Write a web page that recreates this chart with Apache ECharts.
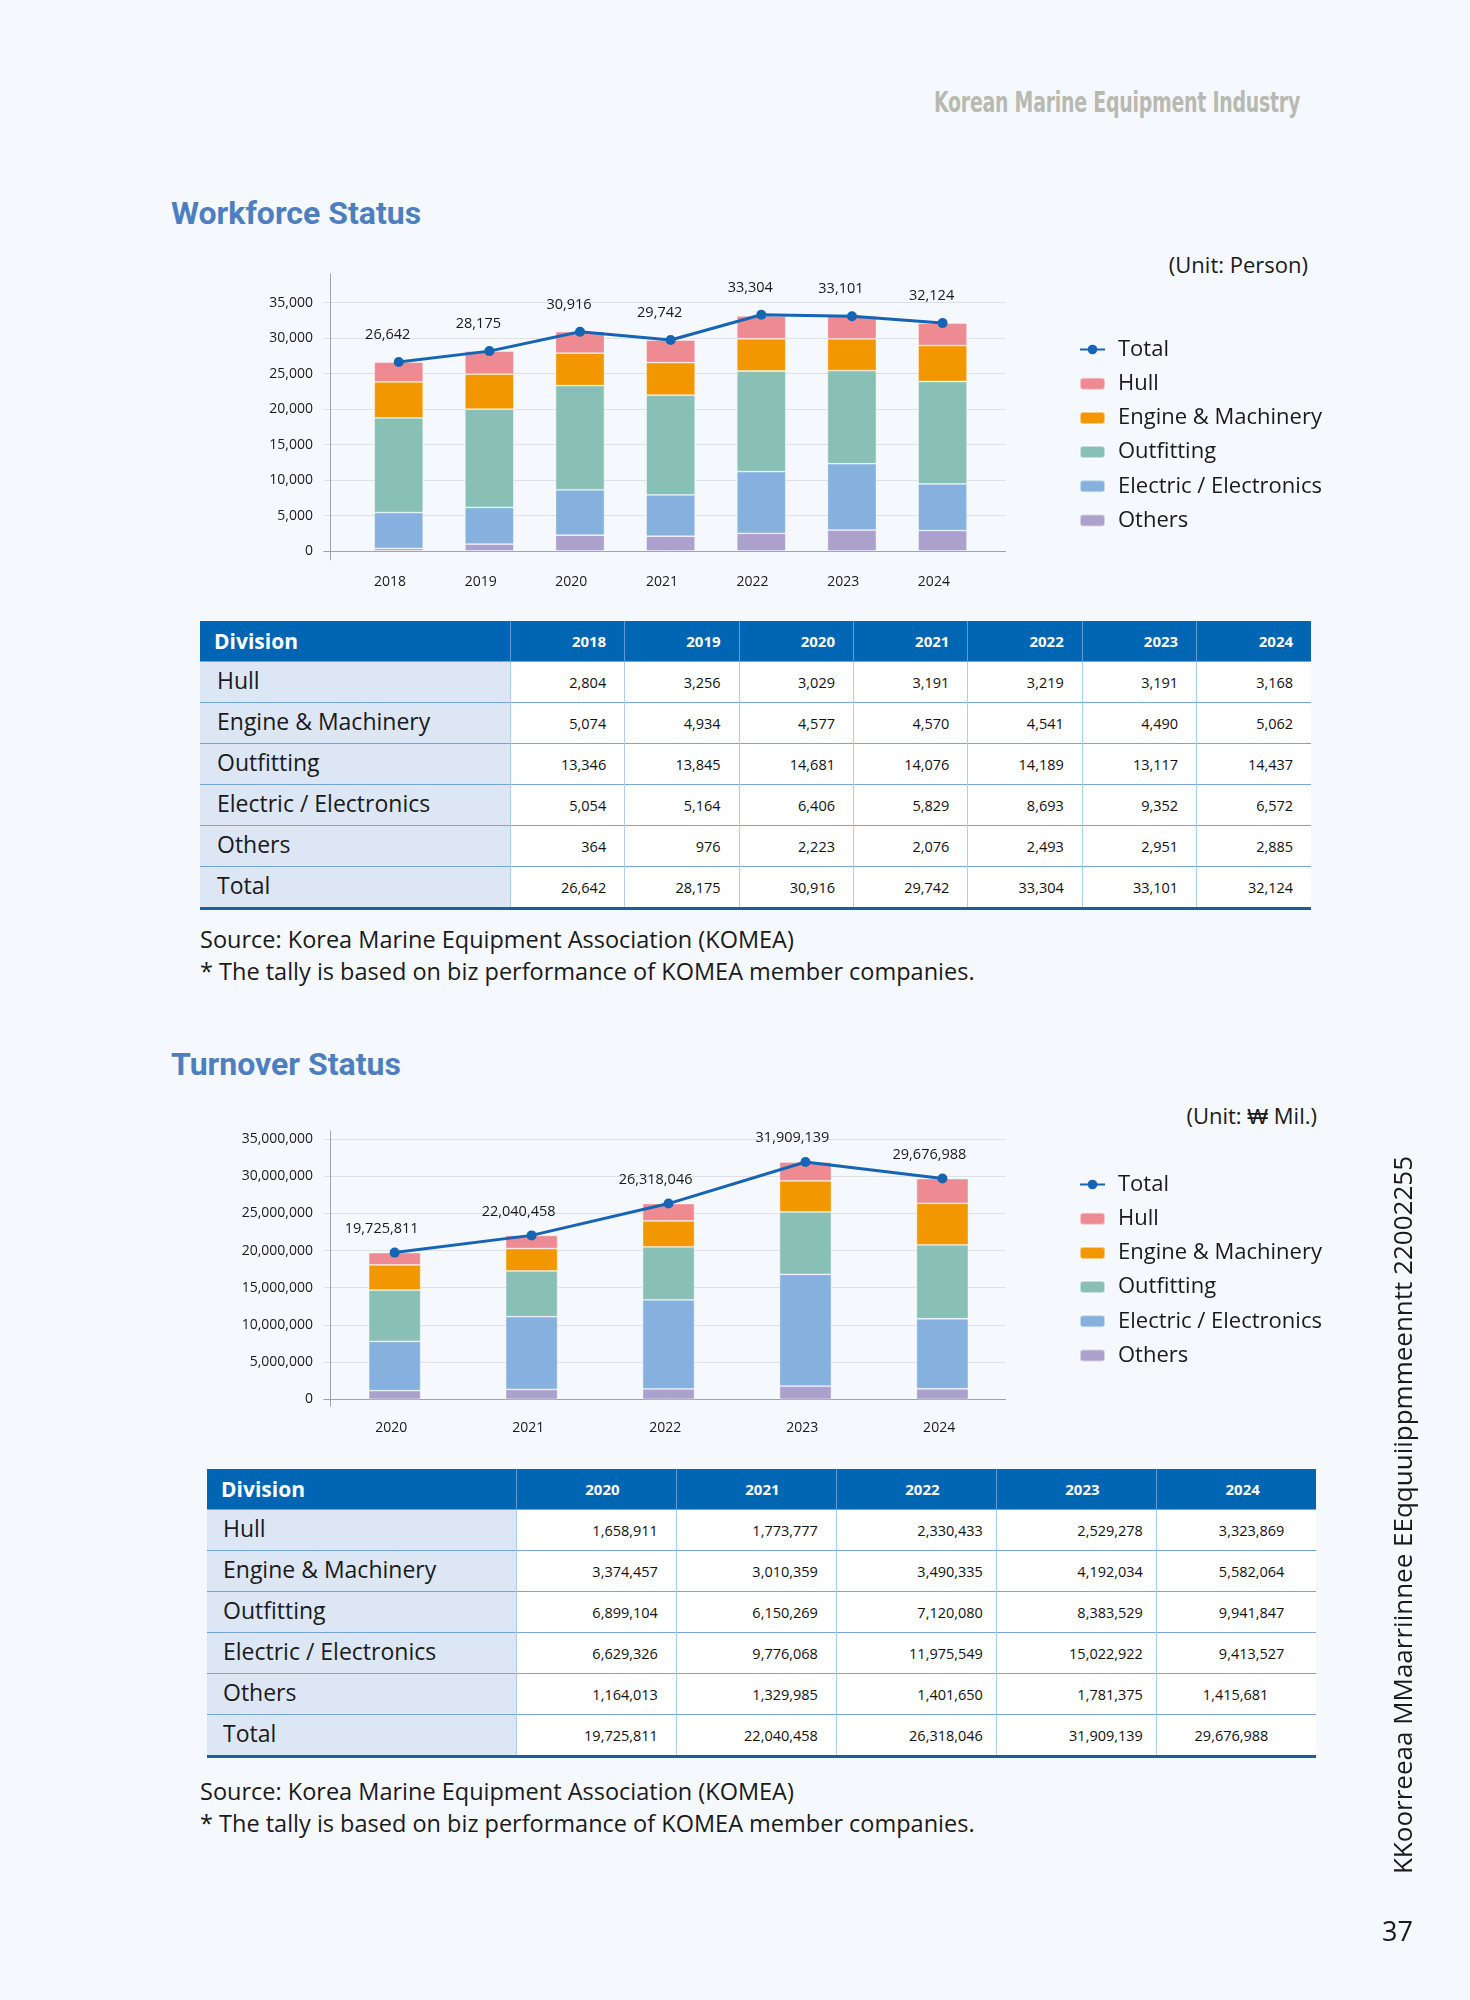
<!DOCTYPE html>
<html>
<head>
<meta charset="utf-8">
<script src="https://cdn.jsdelivr.net/npm/echarts@6/dist/echarts.min.js"></script>
<style>
html,body{margin:0;padding:0;background:#f5f8fc;}
body{width:1470px;height:2000px;position:relative;overflow:hidden;font-family:'Open Sans',sans-serif;color:#1a1a1a;}
.abs{position:absolute;white-space:nowrap;}
.hdr{left:934px;top:86px;font-weight:bold;font-size:28px;font-family:'Liberation Sans Narrow','DejaVu Sans Condensed','Liberation Sans',sans-serif;letter-spacing:-0.3px;color:#b8b9b1;line-height:normal;transform-origin:0 50%;}
.ttl{left:171px;font-weight:bold;font-size:32px;font-family:Roboto,sans-serif;color:#4d7fc0;line-height:normal;}
.unit{font-size:22px;line-height:normal;color:#1a1a1a;text-align:right;}
.note{left:200px;font-size:23.5px;line-height:32px;color:#1a1a1a;}
.vert{left:1032px;top:1497px;width:740px;height:36px;line-height:36px;font-size:26px;text-align:center;transform:rotate(-90deg);transform-origin:50% 50%;color:#1a1a1a;}
.pno{left:1382px;top:1912px;font-size:27px;line-height:normal;color:#1a1a1a;}
.chart{position:absolute;left:0;width:1470px;}
table.dt{position:absolute;border-collapse:collapse;table-layout:fixed;font-family:'Open Sans',sans-serif;}
table.dt th{background:#0065b3;color:#fff;font-weight:bold;font-size:15px;height:40px;padding:0;border-left:1px solid #5f9bd6;}
table.dt th.div{text-align:left;font-size:21px;border-left:none;}
table.dt td{background:#fff;font-size:14.5px;height:40px;padding:0;border-top:1.5px solid #78a5d8;border-left:1px solid #b0cdec;text-align:right;color:#111;}
table.dt td.lab{background:#dce6f5;font-size:23px;text-align:left;border-left:none;color:#1a1a1a;}
table.dt td.lab span{position:relative;top:-2px;}
table.dt tr.last td{border-bottom:3px solid #1d5ca6;}
</style>
</head>
<body>
<div class="abs hdr" id="hdr">Korean Marine Equipment Industry</div>
<div class="abs ttl" style="top:194px;">Workforce Status</div>
<div class="abs unit" style="right:162px;top:249px;">(Unit: Person)</div>
<div id="c1" class="chart" style="top:240px;height:380px;"></div>
<div id="t1wrap"></div>
<div class="abs note" style="top:923px;">Source: Korea Marine Equipment Association (KOMEA)<br>* The tally is based on biz performance of KOMEA member companies.</div>

<div class="abs ttl" style="top:1045px;">Turnover Status</div>
<div class="abs unit" style="right:153px;top:1100px;">(Unit: ₩ Mil.)</div>
<div id="c2" class="chart" style="top:1090px;height:360px;"></div>
<div id="t2wrap"></div>
<div class="abs note" style="top:1775px;">Source: Korea Marine Equipment Association (KOMEA)<br>* The tally is based on biz performance of KOMEA member companies.</div>

<div class="abs vert">KKoorreeaa MMaarriinnee EEqquuiippmmeenntt 22002255</div>
<div class="abs pno">37</div>

<script>
// ---------- Workforce data (persons) ----------
const years1 = ['2018','2019','2020','2021','2022','2023','2024'];
const hull1    = [2804, 3256, 3029, 3191, 3219, 3191, 3168];
const engine1  = [5074, 4934, 4577, 4570, 4541, 4490, 5062];
const outfit1  = [13346, 13845, 14681, 14076, 14189, 13117, 14437];
const elec1    = [5054, 5164, 6406, 5829, 8693, 9352, 6572];
const others1  = [364, 976, 2223, 2076, 2493, 2951, 2885];
const total1   = [26642, 28175, 30916, 29742, 33304, 33101, 32124];

// ---------- Turnover data (KRW million) ----------
const years2 = ['2020','2021','2022','2023','2024'];
const hull2    = [1658911, 1773777, 2330433, 2529278, 3323869];
const engine2  = [3374457, 3010359, 3490335, 4192034, 5582064];
const outfit2  = [6899104, 6150269, 7120080, 8383529, 9941847];
const elec2    = [6629326, 9776068, 11975549, 15022922, 9413527];
const others2  = [1164013, 1329985, 1401650, 1781375, 1415681];
const total2   = [19725811, 22040458, 26318046, 31909139, 29676988];

const rowNames = ['Hull','Engine & Machinery','Outfitting','Electric / Electronics','Others','Total'];
const legendNames = ['Total','Hull','Engine & Machinery','Outfitting','Electric / Electronics','Others'];

const COL = {hull:'#ee8a92', engine:'#f29700', outfit:'#88c0b6', elec:'#86b0de', others:'#aca0cd', total:'#1565b4'};
const fmt = v => Number(v).toLocaleString('en-US');

// fit header width to the reference (366px)
(function(){
  const h = document.getElementById('hdr');
  const w = h.getBoundingClientRect().width;
  h.style.transform = 'scaleX(' + (366 / w) + ')';
})();

function buildChart(el, cfg, d) {
  const chart = echarts.init(el, null, {renderer:'canvas'});
  const axisCol = '#9ea3aa';
  const H = cfg.bottom - cfg.top;
  const bar = (name, data, color) => ({
    name, type:'bar', xAxisIndex:2, yAxisIndex:2, stack:'s', data, barWidth:cfg.barWidth,
    itemStyle:{color, borderColor:'rgba(255,255,255,0.5)', borderWidth:0.8}
  });
  chart.setOption({
    animation:false,
    grid:[
      {left:cfg.axisX, top:cfg.axisTop, width:1, height:cfg.axisBottom-cfg.axisTop},
      {left:cfg.gridL, top:cfg.top, width:cfg.gridR-cfg.gridL, height:H},
      {left:cfg.barL, top:cfg.top, width:cfg.barR-cfg.barL, height:H}
    ],
    xAxis:[
      {gridIndex:0, type:'value', min:0, max:1, show:false},
      {gridIndex:1, type:'value', min:0, max:1, axisLine:{show:true, onZero:false, lineStyle:{color:axisCol, width:1}},
        axisTick:{show:false}, axisLabel:{show:false}, splitLine:{show:false}},
      {gridIndex:2, type:'category', data:d.cats, axisLine:{show:false}, axisTick:{show:false},
        axisLabel:{margin:cfg.xLabelMargin, fontSize:14, fontFamily:'Open Sans', color:'#1a1a1a', padding:[0, cfg.xShift*2, 0, 0]}}
    ],
    yAxis:[
      {gridIndex:0, type:'value', min:0, max:1, axisLine:{show:true, onZero:false, lineStyle:{color:axisCol, width:1}},
        axisTick:{show:false}, axisLabel:{show:false}, splitLine:{show:false}},
      {gridIndex:1, type:'value', min:0, max:cfg.max, interval:cfg.interval, axisLine:{show:false}, axisTick:{show:false},
        splitLine:{lineStyle:{color:'#dde0e5', width:1}},
        axisLabel:{margin:cfg.yLabelMargin, fontSize:14, fontFamily:'Open Sans', color:'#1a1a1a', formatter:v => fmt(v)}},
      {gridIndex:2, type:'value', min:0, max:cfg.max, show:false}
    ],
    legend:{
      data:legendNames, orient:'vertical', left:1074, top:cfg.legendTop,
      itemWidth:25, itemHeight:12, itemGap:cfg.itemGap,
      textStyle:{fontSize:22, fontFamily:'Open Sans', color:'#1a1a1a', lineHeight:24, padding:[0,0,0,8]}
    },
    series:[
      bar('Others', d.others, COL.others),
      bar('Electric / Electronics', d.elec, COL.elec),
      bar('Outfitting', d.outfit, COL.outfit),
      bar('Engine & Machinery', d.engine, COL.engine),
      bar('Hull', d.hull, COL.hull),
      {name:'Total', type:'line', xAxisIndex:2, yAxisIndex:2, data:d.total, symbol:'circle', symbolSize:10, z:10,
        lineStyle:{width:3, color:COL.total}, itemStyle:{color:COL.total},
        label:{show:true, position:'top', distance:cfg.labelDist, offset:[cfg.labelDx, 0],
          fontSize:14.5, fontFamily:'Open Sans', color:'#1a1a1a', formatter:p => fmt(p.value)}}
    ]
  });
}

buildChart(document.getElementById('c1'), {
  axisX:330.7, axisTop:34, axisBottom:320,
  gridL:323.7, gridR:1005.5, top:62.7, bottom:311,
  barL:353.4, barR:987.9, barWidth:49,
  max:35000, interval:5000, yLabelMargin:10.7, xLabelMargin:24.5, xShift:8.7,
  labelDist:14.5, labelDx:-11, legendTop:92.5, itemGap:10.2
}, {cats:years1, hull:hull1, engine:engine1, outfit:outfit1, elec:elec1, others:others1, total:total1});

buildChart(document.getElementById('c2'), {
  axisX:330.7, axisTop:41, axisBottom:316,
  gridL:323.7, gridR:1005.5, top:49, bottom:309.3,
  barL:326.2, barR:1010.9, barWidth:52,
  max:35000000, interval:5000000, yLabelMargin:10.7, xLabelMargin:22, xShift:3.3,
  labelDist:11.5, labelDx:-13, legendTop:77.5, itemGap:10.2
}, {cats:years2, hull:hull2, engine:engine2, outfit:outfit2, elec:elec2, others:others2, total:total2});

function buildTable(wrapId, cfg, cats, series) {
  const t = document.createElement('table');
  t.className = 'dt';
  t.style.left = cfg.left + 'px';
  t.style.top = cfg.top + 'px';
  t.style.width = (cfg.firstW + cfg.colW * cats.length) + 'px';
  let html = '<colgroup><col style="width:' + cfg.firstW + 'px">';
  cats.forEach(() => html += '<col style="width:' + cfg.colW + 'px">');
  html += '</colgroup><tr><th class="div" style="padding-left:' + cfg.divPad + 'px">Division</th>';
  cats.forEach(c => {
    html += '<th style="text-align:' + cfg.headAlign + ';' + (cfg.headAlign === 'right' ? 'padding-right:18px' : 'padding-left:12px') + '">' + c + '</th>';
  });
  html += '</tr>';
  series.forEach((vals, r) => {
    html += '<tr' + (r === series.length - 1 ? ' class="last"' : '') + '><td class="lab" style="padding-left:' + cfg.labPad + 'px"><span>' + rowNames[r] + '</span></td>';
    vals.forEach((v, c) => {
      const pr = cfg.padFn(r, c);
      html += '<td style="padding-right:' + pr + 'px">' + fmt(v) + '</td>';
    });
    html += '</tr>';
  });
  t.innerHTML = html;
  document.getElementById(wrapId).appendChild(t);
}

buildTable('t1wrap', {left:200, top:621, firstW:310.3, colW:114.4, divPad:14, labPad:17, headAlign:'right', padFn:() => 18},
  years1, [hull1, engine1, outfit1, elec1, others1, total1]);

const t2pad = [18, 18, 13, 13, 32];
buildTable('t2wrap', {left:207, top:1469, firstW:309.4, colW:160, divPad:14, labPad:16, headAlign:'center',
  padFn:(r, c) => (c === 4 && r >= 4) ? 48 : t2pad[c]},
  years2, [hull2, engine2, outfit2, elec2, others2, total2]);
</script>
</body>
</html>
